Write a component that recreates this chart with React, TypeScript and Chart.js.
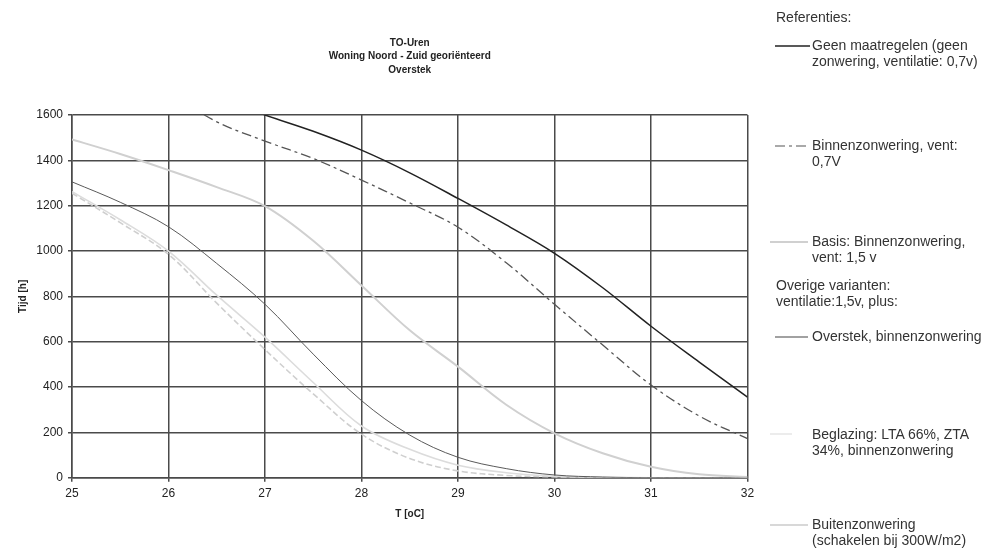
import React, { useEffect, useRef } from 'react';
import { Chart, registerables } from 'chart.js';

Chart.register(...registerables);

// ---- data ----
const temps = [25, 25.5, 26, 26.5, 27, 27.5, 28, 28.5, 29, 29.5, 30, 30.5, 31, 31.5, 32];
const geenMaatregelen = [null, null, null, 1680, 1600, 1528, 1445, 1345, 1232, 1115, 990, 838, 668, 510, 355];
const binnenVent07 = [null, null, 1700, 1570, 1485, 1408, 1313, 1212, 1105, 948, 765, 585, 409, 272, 172];
const basisBinnen15 = [1492, 1428, 1357, 1282, 1198, 1045, 848, 650, 490, 322, 196, 108, 48, 15, 3];
const overstekBinnen = [1305, 1215, 1107, 945, 765, 545, 340, 188, 90, 40, 12, 3, 0, 0, 0];
const beglazing = [1262, 1138, 1000, 805, 620, 420, 228, 125, 55, 22, 6, 1, 0, 0, 0];
const buitenzonwering = [1255, 1125, 985, 770, 565, 370, 192, 85, 30, 10, 3, 0, 0, 0, 0];

const xTicks = [25, 26, 27, 28, 29, 30, 31, 32];
const yTicks = [0, 200, 400, 600, 800, 1000, 1200, 1400, 1600];

const titleLines = ['TO-Uren', 'Woning Noord - Zuid georiënteerd', 'Overstek'];
const xTitle = 'T [oC]';
const yTitle = 'Tijd [h]';

const FONT = '"Liberation Sans", Arial, sans-serif';

const toPts = (vals: (number | null)[]) => temps.map((t, i) => ({ x: t, y: vals[i] }));

function Legend() {
  const txt: React.CSSProperties = {
    position: 'absolute',
    fontFamily: FONT,
    fontSize: 14,
    lineHeight: '16px',
    color: '#333',
    whiteSpace: 'nowrap',
  };
  const line = (y: number, x1: number, x2: number, color: string, w: number, dash?: string) => (
    <line x1={x1} y1={y} x2={x2} y2={y} stroke={color} strokeWidth={w} strokeDasharray={dash} />
  );
  return (
    <>
      <svg width={995} height={555} style={{ position: 'absolute', left: 0, top: 0, pointerEvents: 'none' }}>
        {line(46, 775, 810, '#222', 1.5)}
        {line(146, 775, 808, '#555', 1.2, '10 4 3 4')}
        {line(242, 770, 808, '#d0d0d0', 2)}
        {line(337, 775, 808, '#444', 1.2)}
        {line(434, 770, 792, '#ececec', 2)}
        {line(525, 770, 808, '#d8d8d8', 2)}
      </svg>
      <div style={{ ...txt, left: 776, top: 9 }}>Referenties:</div>
      <div style={{ ...txt, left: 812, top: 37 }}>Geen maatregelen (geen<br />zonwering, ventilatie: 0,7v)</div>
      <div style={{ ...txt, left: 812, top: 137 }}>Binnenzonwering, vent:<br />0,7V</div>
      <div style={{ ...txt, left: 812, top: 233 }}>Basis: Binnenzonwering,<br />vent: 1,5 v</div>
      <div style={{ ...txt, left: 776, top: 277 }}>Overige varianten:<br />ventilatie:1,5v, plus:</div>
      <div style={{ ...txt, left: 812, top: 328 }}>Overstek, binnenzonwering</div>
      <div style={{ ...txt, left: 812, top: 426 }}>Beglazing: LTA 66%, ZTA<br />34%, binnenzonwering</div>
      <div style={{ ...txt, left: 812, top: 516 }}>Buitenzonwering<br />(schakelen bij 300W/m2)</div>
    </>
  );
}

export default function App() {
  const ref = useRef<HTMLCanvasElement>(null);

  useEffect(() => {
    if (!ref.current) return;
    const gridColor = '#4a4a4a';
    const chart = new Chart(ref.current, {
      type: 'line',
      data: {
        datasets: [
          { label: 'Geen maatregelen', data: toPts(geenMaatregelen), borderColor: '#222', borderWidth: 1.5 },
          { label: 'Binnenzonwering, vent: 0,7V', data: toPts(binnenVent07), borderColor: '#555', borderWidth: 1.3, borderDash: [10, 4, 3, 4] },
          { label: 'Basis: Binnenzonwering, vent: 1,5 v', data: toPts(basisBinnen15), borderColor: '#d0d0d0', borderWidth: 2 },
          { label: 'Overstek, binnenzonwering', data: toPts(overstekBinnen), borderColor: '#5a5a5a', borderWidth: 1 },
          { label: 'Beglazing', data: toPts(beglazing), borderColor: '#dcdcdc', borderWidth: 1.6 },
          { label: 'Buitenzonwering', data: toPts(buitenzonwering), borderColor: '#cfcfcf', borderWidth: 1.6, borderDash: [6, 3] },
        ].map((d) => ({ ...d, pointRadius: 0, tension: 0.35, fill: false })),
      },
      options: {
        responsive: false,
        animation: false,
        devicePixelRatio: 1,
        layout: { padding: { left: 0, right: 247.5, top: 36, bottom: 30.3 } },
        plugins: {
          legend: { display: false },
          tooltip: { enabled: false },
          title: {
            display: true,
            text: titleLines,
            fullSize: false,
            color: '#222',
            font: { family: FONT, size: 10, weight: 'bold', lineHeight: 1.35 },
            padding: { top: 0, bottom: 38.5 },
          },
        },
        scales: {
          x: {
            type: 'linear',
            min: 25,
            max: 32,
            afterFit: (s: any) => { s.height = 47; },
            afterBuildTicks: (s: any) => { s.ticks = xTicks.map((v) => ({ value: v })); },
            ticks: { color: '#222', font: { family: FONT, size: 12 }, padding: 5, callback: (v: any) => String(v) },
            grid: { color: gridColor, lineWidth: 1.5, tickLength: 4, tickColor: gridColor },
            border: { color: gridColor, width: 1.5 },
            title: { display: true, text: xTitle, color: '#222', font: { family: FONT, size: 10, weight: 'bold' }, padding: { top: 4, bottom: 4 } },
          },
          y: {
            type: 'linear',
            min: 0,
            max: 1600,
            afterFit: (s: any) => { s.width = 72; },
            afterBuildTicks: (s: any) => { s.ticks = yTicks.map((v) => ({ value: v })); },
            ticks: { color: '#222', font: { family: FONT, size: 12 }, padding: 5, callback: (v: any) => String(v) },
            grid: { color: gridColor, lineWidth: 1.5, tickLength: 4, tickColor: gridColor },
            border: { color: gridColor, width: 1.5 },
            title: { display: true, text: yTitle, color: '#222', font: { family: FONT, size: 10, weight: 'bold' }, padding: { top: 17, bottom: 0 } },
          },
        },
      },
    });
    return () => chart.destroy();
  }, []);

  return (
    <div style={{ position: 'fixed', left: 0, top: 0, width: 995, height: 555, background: '#fff', overflow: 'hidden' }}>
      <canvas ref={ref} width={995} height={555} style={{ position: 'absolute', left: 0, top: 0 }} />
      <Legend />
    </div>
  );
}
